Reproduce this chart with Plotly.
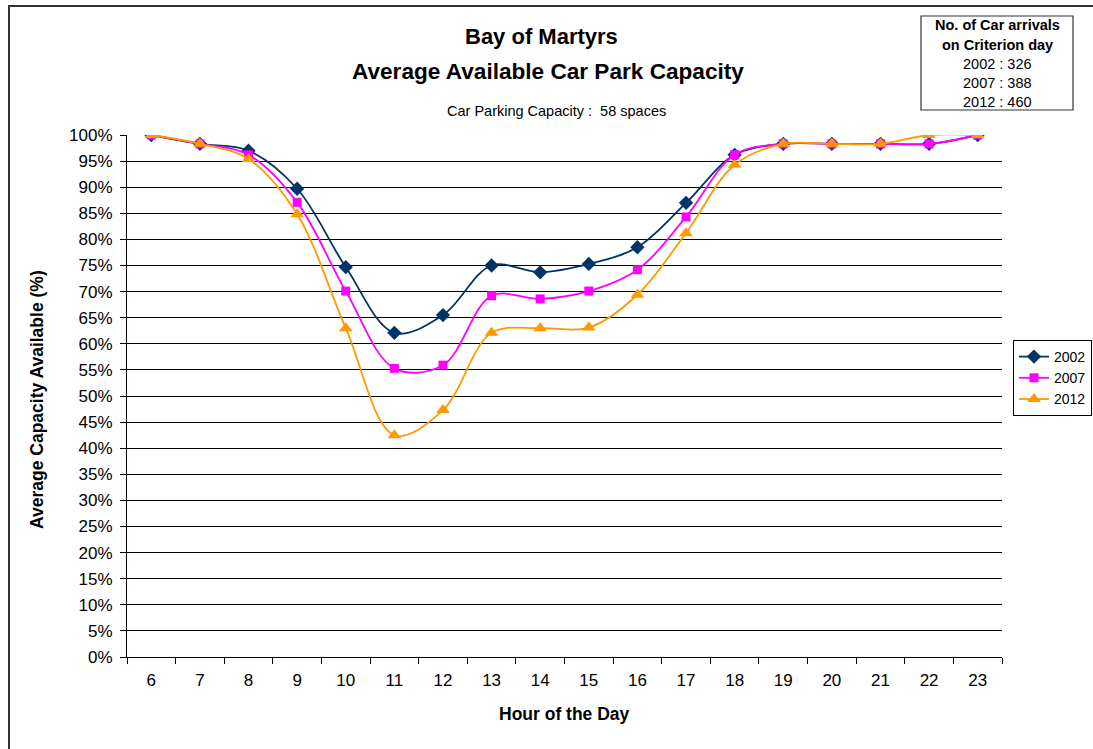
import plotly.graph_objects as go

# Hourly average share of the 58 spaces that are free, per survey year
hours = [str(h) for h in range(6, 24)]
cap_2002 = [100, 98.3, 97.0, 89.7, 74.7, 62.1, 65.5, 75.0, 73.7, 75.3, 78.5, 87.0, 96.2, 98.3, 98.3, 98.3, 98.3, 100]
cap_2007 = [100, 98.3, 96.2, 87.1, 70.1, 55.3, 55.9, 69.2, 68.6, 70.1, 74.2, 84.3, 96.2, 98.3, 98.3, 98.3, 98.3, 100]
cap_2012 = [100, 98.3, 95.4, 84.8, 63.0, 42.5, 47.3, 62.1, 63.0, 63.1, 69.4, 81.2, 94.3, 98.3, 98.3, 98.3, 100, 100]

series_names = ["2002", "2007", "2012"]
series_colors = ["#003366", "#FF00FF", "#FF9900"]
series_symbols = ["diamond", "square", "triangle-up"]
series_sizes = [11, 9, 12]

arrival_lines = ["2002 : 326", "2007 : 388", "2012 : 460"]

FONT = "Liberation Sans, Arial, sans-serif"
FIG_W, FIG_H = 1093, 749
L, R, T, B = 127, 1002, 135, 657
W, H = R - L, B - T


def px(x):
    return (x - L) / W


def py(y):
    return (B - y) / H


fig = go.Figure()
for name, vals, col, sym, sz in zip(series_names, [cap_2002, cap_2007, cap_2012],
                                    series_colors, series_symbols, series_sizes):
    fig.add_trace(go.Scatter(
        x=hours, y=vals, name=name, legendgroup=name,
        mode="lines+markers",
        line=dict(color=col, width=1.8, shape="spline", smoothing=1),
        marker=dict(symbol=sym, size=sz, color=col, line=dict(width=0)),
    ))

annotations = [
    dict(text="<b>Bay of Martyrs</b>", x=px(541), y=py(37), font=dict(size=22)),
    dict(text="<b>Average Available Car Park Capacity</b>", x=px(548), y=py(71), font=dict(size=22.6)),
    dict(text="Car Parking Capacity : \u00a058 spaces", x=px(556), y=py(111), font=dict(size=14.5)),
    dict(text="<b>Hour of the Day</b>", x=px(564), y=py(714), font=dict(size=17.5)),
    dict(text="<b>Average Capacity Available (%)</b>", x=px(37), y=py(400), textangle=-90,
         font=dict(size=17.5)),
    dict(text="<b>No. of Car arrivals</b>", x=px(997), y=py(25), font=dict(size=14.5)),
    dict(text="<b>on Criterion day</b>", x=px(997), y=py(45), font=dict(size=14.5)),
]
for i, line in enumerate(arrival_lines):
    annotations.append(dict(text=line, x=px(997), y=py(64 + 19 * i), font=dict(size=14.5)))
for a in annotations:
    a.update(xref="paper", yref="paper", xanchor="center", yanchor="middle", showarrow=False)
    a["font"].update(family=FONT, color="black")

shapes = [
    # outer chart frame (left and top edges visible)
    dict(type="line", xref="paper", yref="paper", x0=px(9), x1=px(1100), y0=py(6), y1=py(6),
         line=dict(color="#333333", width=2)),
    dict(type="line", xref="paper", yref="paper", x0=px(9), x1=px(9), y0=py(5), y1=py(760),
         line=dict(color="#333333", width=2)),
    # arrivals text box
    dict(type="rect", xref="paper", yref="paper", x0=px(921), x1=px(1073), y0=py(16), y1=py(110),
         line=dict(color="#333333", width=1.2), fillcolor="white", layer="below"),
]

fig.update_layout(
    width=FIG_W, height=FIG_H,
    margin=dict(l=L, r=FIG_W - R, t=T, b=FIG_H - B, pad=0, autoexpand=False),
    paper_bgcolor="white", plot_bgcolor="white",
    font=dict(family=FONT, color="black", size=17),
    showlegend=True,
    legend=dict(
        x=px(1013), y=py(340), xanchor="left", yanchor="top",
        bordercolor="black", borderwidth=1, bgcolor="white",
        font=dict(family=FONT, size=14, color="black"),
        itemwidth=30, tracegroupgap=0,
    ),
    annotations=annotations,
    shapes=shapes,
)

fig.update_xaxes(
    type="category", range=[-0.5, len(hours) - 0.5],
    showgrid=False, showline=True, linecolor="black", linewidth=1,
    ticks="outside", ticklen=6, tickcolor="black", tickson="boundaries",
    ticklabelstandoff=8,
    tickfont=dict(family=FONT, size=17, color="black"),
    zeroline=False, fixedrange=True,
)
fig.update_yaxes(
    range=[0, 100], dtick=5, tick0=0, ticksuffix="%",
    showgrid=True, gridcolor="black", gridwidth=1,
    showline=True, linecolor="black", linewidth=1,
    ticks="outside", ticklen=6, tickcolor="black",
    ticklabelstandoff=4,
    tickfont=dict(family=FONT, size=17, color="black"),
    zeroline=False, fixedrange=True,
)

fig.write_html("out.html")
